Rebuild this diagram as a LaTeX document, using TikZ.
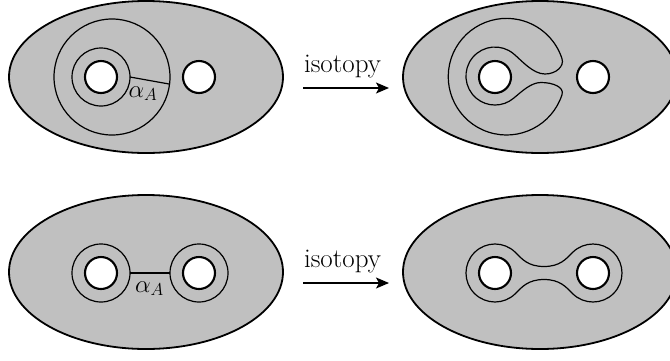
\documentclass[tikz,border=0pt]{standalone}
\usetikzlibrary{arrows.meta}
\definecolor{surfgray}{RGB}{192,192,192}
\begin{document}
\begin{tikzpicture}[x=1pt,y=-1pt,
  surf/.style={fill=surfgray,draw=black,line width=1.8pt},
  hole/.style={fill=white,draw=black,line width=2.1pt},
  curve/.style={draw=black,line width=1.2pt},
  isoarrow/.style={line width=1.3pt,-{Stealth[length=13pt,width=11pt,inset=3pt]}},
  isolbl/.style={font=\fontsize{27}{32}\selectfont, anchor=base, inner sep=0pt},
  alab/.style={font=\fontsize{24}{28}\selectfont, anchor=base west, inner sep=0pt}]
\useasboundingbox (0,0) rectangle (670,360);
\clip (0,0) rectangle (670,360);

% ---------- top left ----------
\draw[surf] (146,77) ellipse [x radius=137, y radius=76];
\draw[curve] (112,77) circle [radius=58];
\draw[curve] (101,77) circle [radius=29];
\draw[hole] (101,77) circle [radius=16];
\draw[hole] (199,77) circle [radius=16];
\coordinate (aL) at (130,77);
\coordinate (aR) at (169.6,84.1);
\draw[curve] (aL) -- (aR);
\node[alab] (alpha1) at (128.5,97) {$\alpha_A$};

% ---------- top arrow ----------
\node[isolbl] (iso1) at (342.5,72) {isotopy};
\coordinate (t1s) at (303,88);
\coordinate (t1e) at (389,88);
\draw[isoarrow] (t1s) -- (t1e);

% ---------- top right ----------
\draw[surf] (540,77) ellipse [x radius=137, y radius=76];
\draw[curve] (562.0,94.7) arc[start angle=18, end angle=342, radius=58.3]
  .. controls (564.5,66.3) and (556,74) .. (545,74)
  .. controls (533,74) and (522,60.9) .. (513.6,53.8)
  arc[start angle=-50, end angle=-310, radius=29]
  .. controls (522,91.3) and (531,82.5) .. (541,82.5)
  .. controls (553,82.5) and (564.5,87.1) .. (562.0,94.7) -- cycle;
\draw[hole] (495,77) circle [radius=16];
\draw[hole] (593,77) circle [radius=16];

% ---------- bottom left ----------
\draw[surf] (146,272) ellipse [x radius=137, y radius=77];
\draw[curve] (101,273) circle [radius=29];
\draw[curve] (199,273) circle [radius=29];
\draw[hole] (101,273) circle [radius=16];
\draw[hole] (199,273) circle [radius=16];
\coordinate (bL) at (130,273);
\coordinate (bR) at (170,273);
\draw[curve] (bL) -- (bR);
\node[alab] (alpha2) at (135,292) {$\alpha_A$};

% ---------- bottom arrow ----------
\node[isolbl] (iso2) at (342.5,267) {isotopy};
\coordinate (t2s) at (303,283);
\coordinate (t2e) at (389,283);
\draw[isoarrow] (t2s) -- (t2e);

% ---------- bottom right ----------
\draw[surf] (540,272) ellipse [x radius=137, y radius=77];
\draw[curve] (515.5,293.5) arc[start angle=45, end angle=315, radius=29]
  .. controls (522,259) and (528,266.5) .. (544,266.5)
  .. controls (560,266.5) and (566,259) .. (572.5,252.5)
  arc[start angle=225, end angle=495, radius=29]
  .. controls (566,287) and (560,279.5) .. (544,279.5)
  .. controls (528,279.5) and (522,287) .. (515.5,293.5) -- cycle;
\draw[hole] (495,273) circle [radius=16];
\draw[hole] (593,273) circle [radius=16];
\end{tikzpicture}
\end{document}
